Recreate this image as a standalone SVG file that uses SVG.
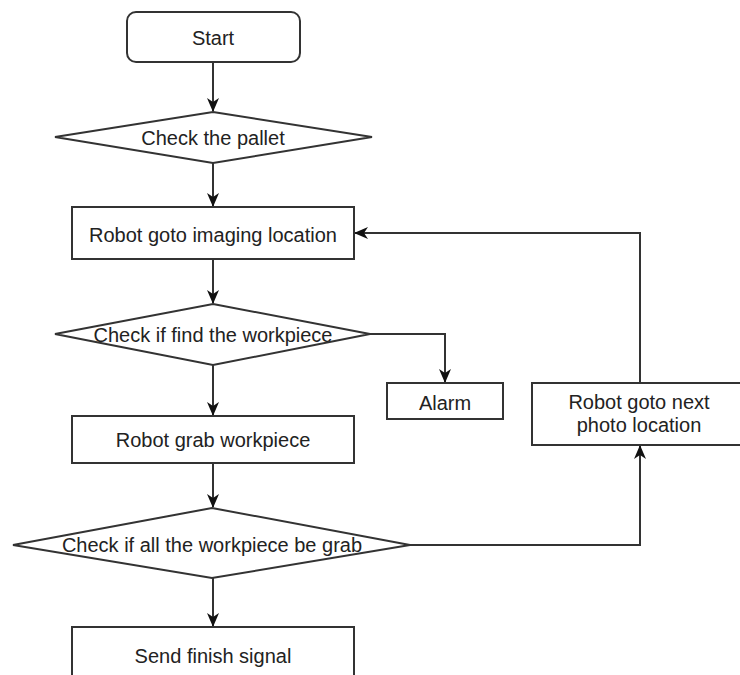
<svg xmlns="http://www.w3.org/2000/svg" width="740" height="675" viewBox="0 0 740 675">
<defs>
<marker id="arr" markerWidth="14" markerHeight="12" viewBox="0 0 14 12" refX="13" refY="6" orient="auto" markerUnits="userSpaceOnUse">
<path d="M0,0 L14,6 L0,12 L4,6 Z" fill="#111"/>
</marker>
<style>
.n{fill:#fff;stroke:#333;stroke-width:2}
.t{font-family:"Liberation Sans",Arial,sans-serif;font-size:20px;fill:#222;text-anchor:middle}
.c{fill:none;stroke:#333;stroke-width:2;marker-end:url(#arr)}
</style>
</defs>
<rect width="740" height="675" fill="#fff"/>
<g id="connectors">
<path class="c" d="M213,62 L213,111"/>
<path class="c" d="M213,163 L213,206"/>
<path class="c" d="M213,259 L213,303"/>
<path class="c" d="M370,334 L445,334 L445,382"/>
<path class="c" d="M213,365 L213,415"/>
<path class="c" d="M213,463 L213,507"/>
<path class="c" d="M410,545 L640,545 L640,446"/>
<path class="c" d="M640,383 L640,233 L355,233"/>
<path class="c" d="M213,578 L213,626"/>
</g>
<g id="start">
<rect class="n" x="127" y="12" width="173" height="50" rx="9"/>
<text class="t" x="213" y="45">Start</text>
</g>
<g id="check-pallet">
<polygon class="n" points="213,112 372,137 213,163 55,137"/>
<text class="t" x="213" y="145">Check the pallet</text>
</g>
<g id="goto-imaging">
<rect class="n" x="72" y="207" width="282" height="52"/>
<text class="t" x="213" y="242">Robot goto imaging location</text>
</g>
<g id="check-find">
<polygon class="n" points="213,304 370,334 213,365 55,334"/>
<text class="t" x="213" y="342">Check if find the workpiece</text>
</g>
<g id="alarm">
<rect class="n" x="387" y="383" width="116" height="36"/>
<text class="t" x="445" y="410">Alarm</text>
</g>
<g id="next-photo">
<rect class="n" x="532" y="383" width="214" height="62"/>
<text class="t" x="639" y="409">Robot goto next</text>
<text class="t" x="639" y="432">photo location</text>
</g>
<g id="grab">
<rect class="n" x="72" y="416" width="282" height="47"/>
<text class="t" x="213" y="447">Robot grab workpiece</text>
</g>
<g id="check-all">
<polygon class="n" points="212,508 410,545 212,578 13,545"/>
<text class="t" x="212" y="552">Check if all the workpiece be grab</text>
</g>
<g id="finish">
<rect class="n" x="72" y="627" width="282" height="60"/>
<text class="t" x="213" y="663">Send finish signal</text>
</g>
</svg>
